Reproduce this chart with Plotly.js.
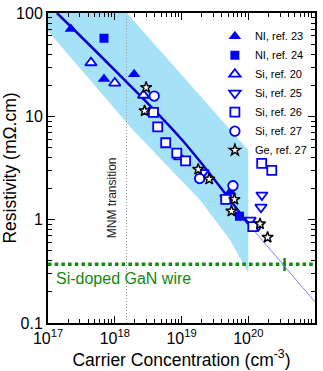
<!DOCTYPE html>
<html>
<head>
<meta charset="utf-8">
<script src="https://cdn.plot.ly/plotly-3.0.1.min.js"></script>
<style>html,body{margin:0;padding:0;background:#fff;}#chart{width:323px;height:371px;}</style>
</head>
<body>
<div id="chart"></div>
<script>
// ---- data ----
const ni23_x = [2.2e17, 6.9e17, 1.95e18, 5.4e19];
const ni23_y = [70, 23, 25.5, 1.86];
const ni24_x = [6.9e17, 7.4e19];
const ni24_y = [57, 1.08];
const si20_x = [4.4e17, 1.0e18, 2.7e18, 9.3e18];
const si20_y = [33, 21, 16, 4.05];
const si25_x = [2.1e19, 4.6e19, 1.07e20, 1.41e20, 1.55e20, 1.6e20];
const si25_y = [2.85, 1.62, 0.99, 0.875, 1.32, 1.73];
const si26_x = [3.8e18, 4.4e18, 5.8e18, 8.5e18, 1.15e19, 4.6e19, 1.17e20, 1.59e20, 2.25e20];
const si26_y = [10.9, 7.9, 5.55, 4.4, 3.7, 1.57, 0.855, 3.5, 3.0];
const si27_x = [3.9e18, 1.87e19, 5.9e19];
const si27_y = [15.7, 2.5, 2.13];
const ge27_x = [2.95e18, 2.8e18, 1.78e19, 2.6e19, 6.2e19, 5.6e19, 1.5e20, 1.95e20];
const ge27_y = [19, 11.3, 3.07, 2.47, 1.57, 1.21, 0.91, 0.675];

// fit line (thick part, then thin extrapolation)
const fit_x = [1.36e17, 1e18, 1e19, 1e20];
const fit_y = [100, 28, 6.0, 0.91];
const ext_x = [1e20, 1e21];
const ext_y = [0.91, 0.16];

// shaded band outline
const band_x = [1e17, 1.52e18, 1e20, 1e20, 5.33e19, 1.89e19, 1.875e18, 1e17];
const band_y = [100, 100, 4.7, 0.304, 0.635, 1.55, 7.36, 67];

// reference lines
const mnm_x = [1.5e18, 1.5e18];
const mnm_y = [0.1, 100];
const wire_x = [1e17, 1e21];
const wire_y = [0.37, 0.37];
const wireMark_x = [3.5e20, 3.5e20];
const wireMark_y = [0.318, 0.425];

const xTickVals = [1e17, 1e18, 1e19, 1e20, 1e21];
const xTickText = ['10<sup>17</sup>', '10<sup>18</sup>', '10<sup>19</sup>', '10<sup>20</sup>', '10<sup>21</sup>'];
const yTickVals = [0.1, 1, 10, 100];
const yTickText = ['0.1', '1', '10', '100'];

const FONT = 'Arial, "Liberation Sans", sans-serif';
const BLUE = '#0000ff';

function mk(x, y, name, symbol, size, filled, color, lw) {
  return {
    x: x, y: y, name: name, type: 'scatter', mode: 'markers',
    marker: filled ? {symbol: symbol, size: size, color: color, line: {width: 0}}
                   : {symbol: symbol, size: size, color: 'white', line: {width: lw || 1.8, color: color}}
  };
}

const traces = [
  {x: band_x, y: band_y, type: 'scatter', mode: 'lines', fill: 'toself',
   fillcolor: '#a6e2f7', line: {width: 0}, showlegend: false, hoverinfo: 'skip'},
  {x: mnm_x, y: mnm_y, type: 'scatter', mode: 'lines', line: {color: '#999999', width: 1, dash: '1px,2px'}, showlegend: false},
  {x: wire_x, y: wire_y, type: 'scatter', mode: 'lines', line: {color: '#118811', width: 3.5, dash: '3.5px,3.2px'}, showlegend: false},
  {x: wireMark_x, y: wireMark_y, type: 'scatter', mode: 'lines', line: {color: '#118811', width: 2.5}, showlegend: false},
  {x: ext_x, y: ext_y, type: 'scatter', mode: 'lines', line: {color: '#8080ff', width: 1}, showlegend: false},
  {x: fit_x, y: fit_y, type: 'scatter', mode: 'lines', line: {color: '#0000cc', width: 2.5, shape: 'spline'}, showlegend: false},
  mk(ni23_x, ni23_y, 'NI, ref. 23', 'triangle-up', 11, true, BLUE),
  mk(ni24_x, ni24_y, 'NI, ref. 24', 'square', 9, true, BLUE),
  mk(si20_x, si20_y, 'Si, ref. 20', 'triangle-up', 10, false, BLUE),
  mk(si25_x, si25_y, 'Si, ref. 25', 'triangle-down', 10, false, BLUE),
  mk(si26_x, si26_y, 'Si, ref. 26', 'square', 9, false, BLUE),
  mk(si27_x, si27_y, 'Si, ref. 27', 'circle', 9.5, false, BLUE),
  mk(ge27_x, ge27_y, 'Ge, ref. 27', 'star', 8.5, false, '#000000', 1.4)
];

const axisCommon = {
  type: 'log', showgrid: false, zeroline: false,
  showline: true, linecolor: '#000', linewidth: 2, mirror: 'ticks',
  ticks: 'inside', ticklen: 7, tickwidth: 1, tickcolor: '#000',
  tickmode: 'array',
  tickfont: {family: FONT, size: 16, color: '#000'},
  minor: {ticks: 'inside', ticklen: 4, tickwidth: 1, tickcolor: '#000', dtick: 'D1', showgrid: false}
};

const layout = {
  width: 323, height: 371,
  margin: {l: 48, r: 8, t: 13, b: 48},
  paper_bgcolor: '#fff', plot_bgcolor: '#fff',
  font: {family: FONT, color: '#000'},
  showlegend: true,
  legend: {x: 0.625, y: 0.972, xanchor: 'left', yanchor: 'top',
           bgcolor: 'rgba(0,0,0,0)', borderwidth: 0,
           font: {family: FONT, size: 11, color: '#000'}},
  xaxis: Object.assign({}, axisCommon, {
    range: [17, 21], tickvals: xTickVals, ticktext: xTickText,
    title: {text: 'Carrier Concentration (cm<sup>-3</sup>)', font: {family: FONT, size: 17.5}, standoff: 1}
  }),
  yaxis: Object.assign({}, axisCommon, {
    range: [-1, 2], tickvals: yTickVals, ticktext: yTickText,
    title: {text: 'Resistivity (mΩ.cm)', font: {family: FONT, size: 17.5}, standoff: 3}
  }),
  annotations: [
    {xref: 'paper', yref: 'paper', x: 0.24, y: 0.403, xanchor: 'center', yanchor: 'middle',
     text: 'MNM transition', textangle: -90,
     showarrow: false, font: {family: FONT, size: 12, color: '#222'}},
    {xref: 'paper', yref: 'paper', x: 0.022, y: 0.142, xanchor: 'left', yanchor: 'middle',
     text: 'Si-doped GaN wire',
     showarrow: false, font: {family: FONT, size: 16, color: '#118811'}}
  ]
};

Plotly.newPlot('chart', traces, layout, {staticPlot: true, displayModeBar: false});
</script>
</body>
</html>
